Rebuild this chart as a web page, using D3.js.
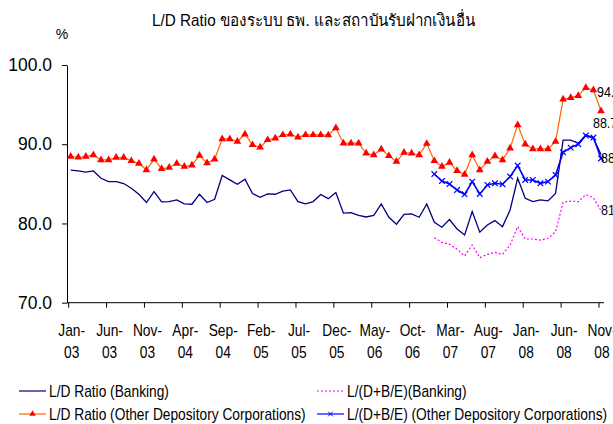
<!DOCTYPE html>
<html>
<head>
<meta charset="utf-8">
<script src="https://cdn.jsdelivr.net/npm/d3@7/dist/d3.min.js"></script>
<style>
    html, body { margin: 0; padding: 0; background: #fff; }
    svg { display: block; }
    text { font-family: "Liberation Sans", Arial, sans-serif; fill: #000; }
</style>
</head>
<body>
<svg id="chart" width="613" height="424"></svg>
<script>
// Data, monthly Jan-03 .. Nov-08
const chartTitle = "L/D Ratio ของระบบ ธพ. และสถาบันรับฝากเงินอื่น";
const yTicks = [70, 80, 90, 100];
const tickLabels = [
    ["Jan-", "03"], ["Jun-", "03"], ["Nov-", "03"], ["Apr-", "04"], ["Sep-", "04"],
    ["Feb-", "05"], ["Jul-", "05"], ["Dec-", "05"], ["May-", "06"], ["Oct-", "06"],
    ["Mar-", "07"], ["Aug-", "07"], ["Jan-", "08"], ["Jun-", "08"], ["Nov-", "08"]
];
const tickEvery = 5;

const ldBanking = [
    86.72, 86.63, 86.47, 86.63, 85.71, 85.29, 85.29, 85.04, 84.45, 83.69,
    82.64, 84.03, 82.72, 82.76, 82.97, 82.47, 82.43, 83.69, 82.64, 83.06,
    86.05, 85.50, 84.95, 85.58, 83.77, 83.31, 83.73, 83.69, 84.07, 84.24,
    82.76, 82.47, 82.76, 83.65, 83.13, 83.90, 81.30, 81.37, 81.03, 80.82,
    81.03, 82.47, 80.78, 79.90, 81.16, 81.20, 80.78, 82.47, 80.15, 79.52,
    80.49, 79.30, 78.55, 81.50, 78.90, 79.80, 80.36, 79.60, 81.70, 85.70,
    83.18, 82.76, 82.97, 82.85, 83.80, 90.53, 90.53, 90.12, 91.17, 90.75,
    88.70
];
const ldOther = [
    88.44, 88.36, 88.44, 88.65, 88.02, 88.02, 88.32, 88.32, 87.90, 87.56,
    86.76, 88.10, 86.90, 87.06, 87.56, 87.18, 87.35, 88.57, 87.64, 88.10,
    90.67, 90.67, 90.34, 91.26, 89.92, 89.62, 90.55, 90.76, 91.18, 91.26,
    90.88, 91.18, 91.18, 91.18, 91.15, 92.05, 90.13, 90.13, 90.13, 88.86,
    88.65, 89.37, 88.53, 87.81, 88.95, 88.86, 88.65, 90.08, 87.90, 87.18,
    87.69, 86.65, 86.17, 88.65, 86.76, 87.81, 88.52, 88.02, 89.49, 92.44,
    90.00, 89.41, 89.41, 89.41, 90.33, 95.67, 95.88, 96.13, 97.14, 96.85,
    94.20
];
// the two L/(D+B/E) series start in Jan-07
const recentStart = 48;
const ldbeBanking = [
    78.20, 77.62, 77.37, 76.75, 75.90, 77.28, 75.68, 76.10, 76.36, 76.10,
    77.28, 79.60, 78.04, 78.04, 77.90, 78.10, 78.96, 82.67, 82.83, 82.75,
    83.65, 83.25, 81.60
];
const ldbeOther = [
    86.24, 85.35, 84.98, 84.22, 83.68, 85.28, 83.73, 84.87, 85.07, 84.95,
    85.92, 87.31, 85.49, 85.49, 85.07, 85.28, 86.12, 88.98, 89.57, 90.00,
    91.10, 90.84, 88.20
];

const svg = d3.select("#chart");
const plot = { left: 67, right: 604, top: 65, bottom: 302.7 };
// the original uses a condensed face; squeeze Liberation Sans to match
const narrow = 0.86;

const x = d3.scaleLinear()
    .domain([0, ldOther.length - 1])
    .range([70.7, 601]);
const y = d3.scaleLinear()
    .domain([70, 100])
    .range([plot.bottom, plot.top]);

// title + unit
svg.append("text")
    .attr("x", 152)
    .attr("y", 26)
    .attr("font-size", 16.5)
    .attr("textLength", 323)
    .attr("lengthAdjust", "spacingAndGlyphs")
    .text(chartTitle);

svg.append("text")
    .attr("x", 62)
    .attr("y", 39)
    .attr("text-anchor", "middle")
    .attr("font-size", 14)
    .text("%");

// y axis
const yAxis = svg.append("g")
    .attr("transform", `translate(${plot.left},0)`)
    .call(d3.axisLeft(y)
        .tickValues(yTicks)
        .tickFormat(d3.format(".1f"))
        .tickSize(5)
        .tickSizeOuter(0)
        .tickPadding(10));
yAxis.select(".domain").attr("stroke", "#000");
yAxis.selectAll("text")
    .style("font-family", "'Liberation Sans', Arial, sans-serif")
    .attr("font-size", 17.5);

// x axis
const xAxis = svg.append("g");
xAxis.append("line")
    .attr("x1", plot.left)
    .attr("x2", plot.right)
    .attr("y1", plot.bottom)
    .attr("y2", plot.bottom)
    .attr("stroke", "#000");

const tickIdx = tickLabels.map((d, i) => i * tickEvery);
xAxis.selectAll(".xtick")
    .data(tickIdx)
    .enter()
    .append("line")
    .attr("class", "xtick")
    .attr("x1", d => x(d) - 2)
    .attr("x2", d => x(d) - 2)
    .attr("y1", plot.bottom)
    .attr("y2", plot.bottom + 5)
    .attr("stroke", "#000");

const xLabels = xAxis.selectAll(".xlabel")
    .data(tickIdx)
    .enter()
    .append("g")
    .attr("class", "xlabel")
    .attr("transform", d => `translate(${x(d) + 1},0) scale(${narrow},1)`)
    .append("text")
    .attr("text-anchor", "middle")
    .attr("font-size", 16);
xLabels.append("tspan")
    .attr("x", 0)
    .attr("y", 336)
    .text((d, i) => tickLabels[i][0]);
xLabels.append("tspan")
    .attr("x", 0)
    .attr("y", 358)
    .text((d, i) => tickLabels[i][1]);

// series
const line = offset => d3.line()
    .x((d, i) => x(i + offset))
    .y(d => y(d));

svg.append("path")
    .datum(ldBanking)
    .attr("d", line(0))
    .attr("fill", "none")
    .attr("stroke", "#000080")
    .attr("stroke-width", 1.3);

svg.append("path")
    .datum(ldbeBanking)
    .attr("d", line(recentStart))
    .attr("fill", "none")
    .attr("stroke", "#FF00FF")
    .attr("stroke-width", 1.2)
    .attr("stroke-dasharray", "2,2");

svg.append("path")
    .datum(ldOther)
    .attr("d", line(0))
    .attr("fill", "none")
    .attr("stroke", "#FF6600")
    .attr("stroke-width", 1.2);

svg.append("path")
    .datum(ldbeOther)
    .attr("d", line(recentStart))
    .attr("fill", "none")
    .attr("stroke", "#0000FF")
    .attr("stroke-width", 1.6);

const tri = d3.symbol(d3.symbolTriangle, 26);
const cross = "M-2.8,-2.8L2.8,2.8M-2.8,2.8L2.8,-2.8";

svg.append("g")
    .selectAll("path")
    .data(ldOther)
    .enter()
    .append("path")
    .attr("d", tri)
    .attr("transform", (d, i) => `translate(${x(i)},${y(d)})`)
    .attr("fill", "#FF0000");

svg.append("g")
    .selectAll("path")
    .data(ldbeOther)
    .enter()
    .append("path")
    .attr("d", cross)
    .attr("transform", (d, i) => `translate(${x(i + recentStart)},${y(d)})`)
    .attr("stroke", "#0000FF")
    .attr("stroke-width", 1.2);

// end-of-series labels, running off the right edge like the original
const last = arr => arr[arr.length - 1];
const endLabels = [
    { v: last(ldOther), dx: -4, dy: -19 },
    { v: last(ldBanking), dx: -8, dy: -32 },
    { v: last(ldbeOther), dx: 0, dy: -1 },
    { v: last(ldbeBanking), dx: 0, dy: -1 }
];
svg.append("g")
    .selectAll("g")
    .data(endLabels)
    .enter()
    .append("g")
    .attr("transform", d => `translate(${x(ldOther.length - 1) + d.dx},${y(d.v) + d.dy}) scale(${narrow},1)`)
    .append("text")
    .attr("dy", "0.35em")
    .attr("font-size", 14.5)
    .text(d => d3.format(".1f")(d.v));

// legend
const legendItems = [
    { name: "L/D Ratio (Banking)", color: "#000080", dash: null, marker: null, col: 0, row: 0 },
    { name: "L/(D+B/E)(Banking)", color: "#FF00FF", dash: "2,2", marker: null, col: 1, row: 0 },
    { name: "L/D Ratio (Other Depository Corporations)", color: "#FF6600", dash: null, marker: "tri", col: 0, row: 1 },
    { name: "L/(D+B/E) (Other Depository Corporations)", color: "#0000FF", dash: null, marker: "x", col: 1, row: 1 }
];
const legendCols = [19, 317];
const legendRows = [391, 414];

const legend = svg.append("g")
    .selectAll("g")
    .data(legendItems)
    .enter()
    .append("g")
    .attr("transform", d => `translate(${legendCols[d.col]},${legendRows[d.row]})`);

legend.append("line")
    .attr("x1", 0)
    .attr("x2", 27)
    .attr("stroke", d => d.color)
    .attr("stroke-width", 1.2)
    .attr("stroke-dasharray", d => d.dash);

legend.filter(d => d.marker === "tri")
    .append("path")
    .attr("d", d3.symbol(d3.symbolTriangle, 18))
    .attr("transform", "translate(13.5,0)")
    .attr("fill", "#FF0000");

legend.filter(d => d.marker === "x")
    .append("path")
    .attr("d", "M-2.3,-2.3L2.3,2.3M-2.3,2.3L2.3,-2.3")
    .attr("transform", "translate(13.5,0)")
    .attr("stroke", "#0000FF")
    .attr("stroke-width", 1);

legend.append("g")
    .attr("transform", `translate(30,0) scale(${narrow},1)`)
    .append("text")
    .attr("dy", "0.35em")
    .attr("font-size", 16)
    .text(d => d.name);
</script>
</body>
</html>
